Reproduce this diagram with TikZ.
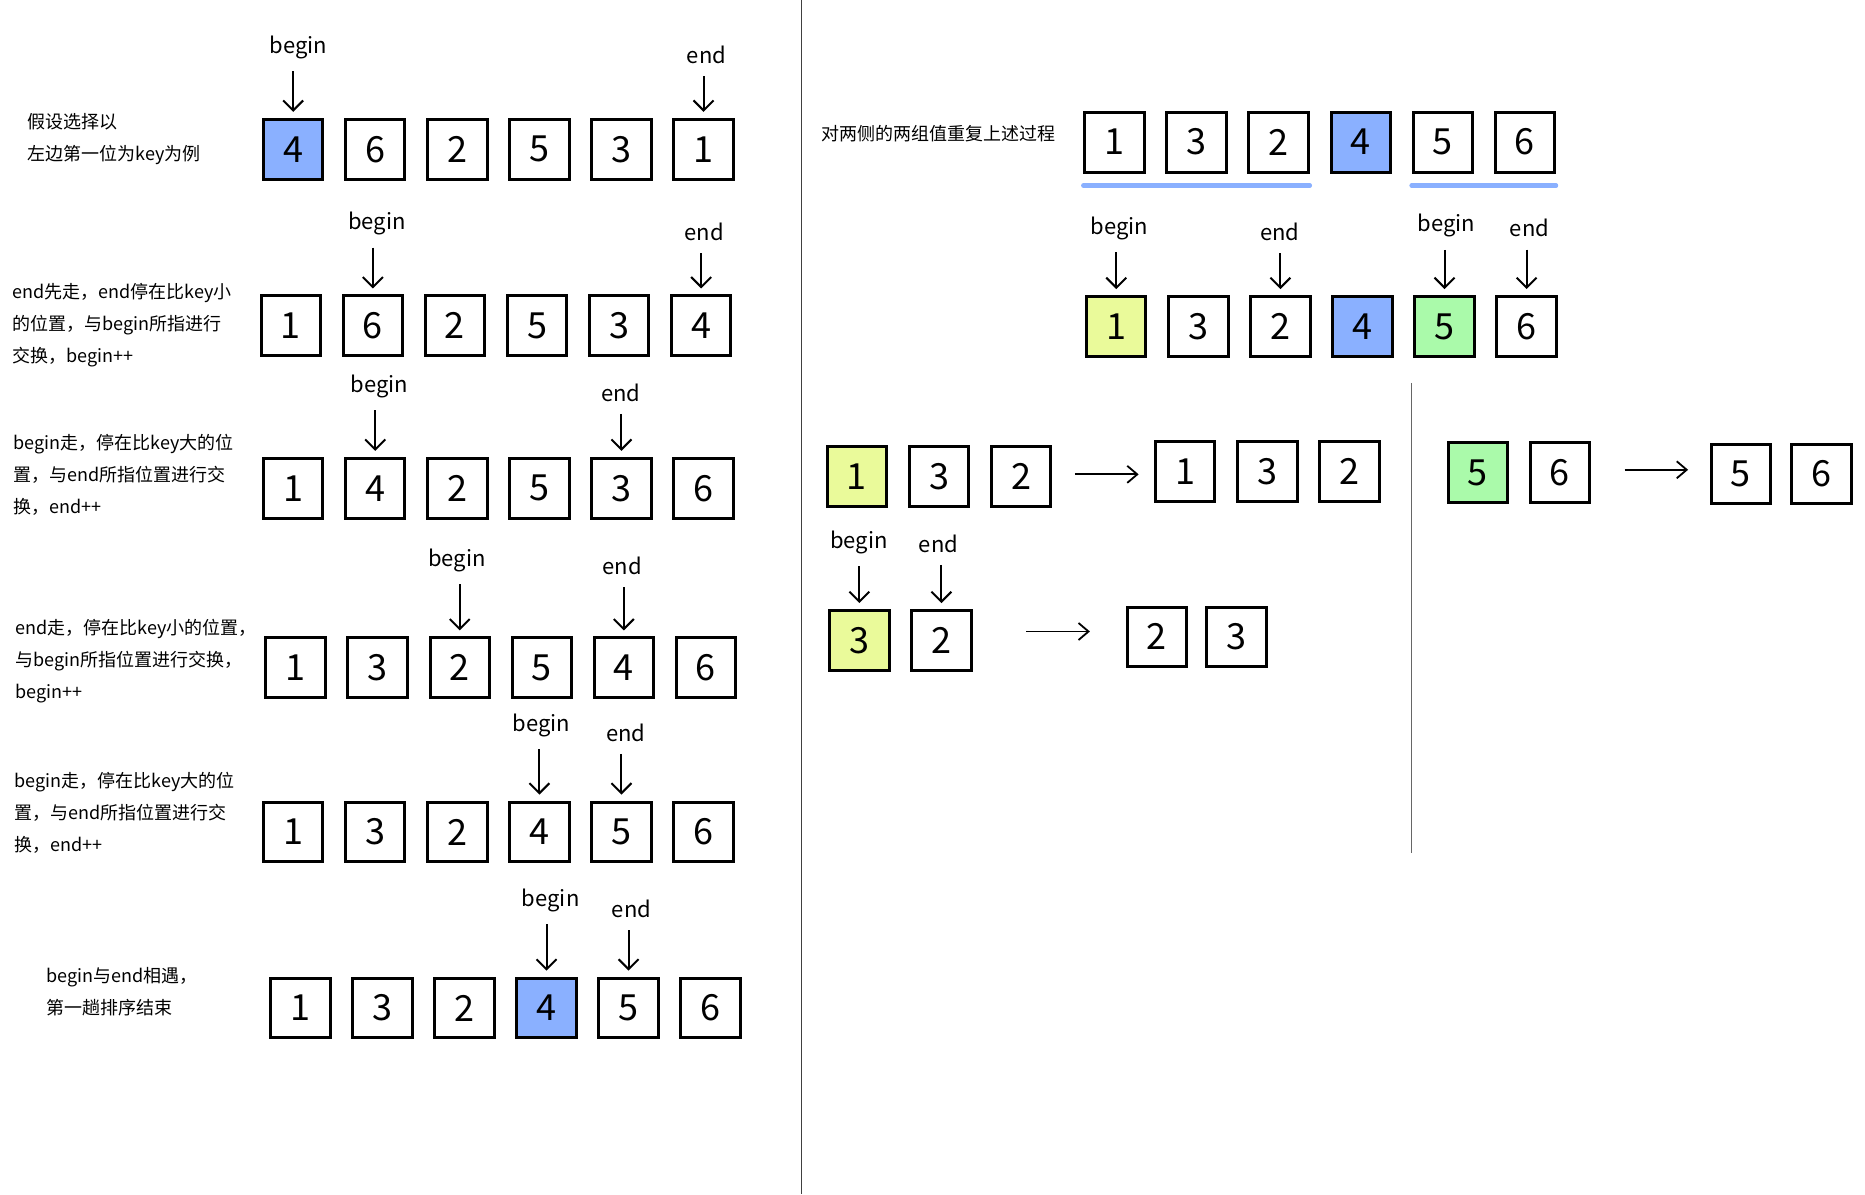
\documentclass[tikz,border=0pt]{standalone}
\usepackage{fontspec}
\setmainfont{Noto Sans CJK SC}
\usetikzlibrary{arrows.meta, positioning}

\definecolor{keyblue}{RGB}{138,176,255}
\definecolor{lowyellow}{RGB}{234,250,154}
\definecolor{highgreen}{RGB}{170,250,170}

\tikzset{
  cell/.style={draw, line width=1.5pt, minimum width=29.7pt, minimum height=29.9pt, inner sep=0pt, font=\fontsize{18}{18}\selectfont},
  ptr/.style={-{Straight Barb[length=5pt,width=10pt]}, line width=1pt, shorten <=6pt, shorten >=3pt},
  flow/.style={-{Straight Barb[length=5pt,width=8.5pt]}, line width=0.9pt},
  tag/.style={inner sep=0pt, font=\fontsize{11}{11}\selectfont},
  note/.style={anchor=west, align=left, inner sep=0pt, font=\fontsize{9}{16}\selectfont},
  uline/.style={keyblue, line width=2.2pt, line cap=round},
}

\begin{document}
\begin{tikzpicture}[x=0.5947pt, y=-0.5947pt]
  \useasboundingbox (0,0) rectangle (1568,1004);

  % ---------- left half: first pass ----------
  % step 1
  \node[note] (n1) at (23,116.5) {假设选择以\\左边第一位为key为例};
  \foreach \v/\c [count=\i] in {4/keyblue,6/white,2/white,5/white,3/white,1/white}
    \node[cell, fill=\c] (s1-\i) at ({246.5+69*(\i-1)},125.5) {\v};
  \node[tag] (b1) at (251,40) {begin};
  \node[tag] (e1) at (594,46) {end};
  \draw[ptr] (s1-1.north |- b1.south) -- (s1-1.north);
  \draw[ptr] (s1-6.north |- e1.south) -- (s1-6.north);

  % step 2
  \node[note] (n2) at (10,273) {end先走，end停在比key小\\的位置，与begin所指进行\\交换，begin++};
  \foreach \v [count=\i] in {1,6,2,5,3,4}
    \node[cell] (s2-\i) at ({244.5+69*(\i-1)},274) {\v};
  \node[tag] (b2) at (317,188) {begin};
  \node[tag] (e2) at (592,195) {end};
  \draw[ptr] (s2-2.north |- b2.south) -- (s2-2.north);
  \draw[ptr] (s2-6.north |- e2.south) -- (s2-6.north);

  % step 3
  \node[note] (n3) at (11,399) {begin走，停在比key大的位\\置，与end所指位置进行交\\换，end++};
  \foreach \v [count=\i] in {1,4,2,5,3,6}
    \node[cell] (s3-\i) at ({246.5+69*(\i-1)},410.5) {\v};
  \node[tag] (b3) at (319,325) {begin};
  \node[tag] (e3) at (522,330) {end};
  \draw[ptr] (s3-2.north |- b3.south) -- (s3-2.north);
  \draw[ptr] (s3-5.north |- e3.south) -- (s3-5.north);

  % step 4
  \node[note] (n4) at (13,556) {end走，停在比key小的位置，\\与begin所指位置进行交换，\\begin++};
  \foreach \v [count=\i] in {1,3,2,5,4,6}
    \node[cell] (s4-\i) at ({248.5+69*(\i-1)},561.5) {\v};
  \node[tag] (b4) at (384,471) {begin};
  \node[tag] (e4) at (523,476) {end};
  \draw[ptr] (s4-3.north |- b4.south) -- (s4-3.north);
  \draw[ptr] (s4-5.north |- e4.south) -- (s4-5.north);

  % step 5
  \node[note] (n5) at (12,683) {begin走，停在比key大的位\\置，与end所指位置进行交\\换，end++};
  \foreach \v [count=\i] in {1,3,2,4,5,6}
    \node[cell] (s5-\i) at ({246.5+69*(\i-1)},699.5) {\v};
  \node[tag] (b5) at (455,610) {begin};
  \node[tag] (e5) at (526,616) {end};
  \draw[ptr] (s5-4.north |- b5.south) -- (s5-4.north);
  \draw[ptr] (s5-5.north |- e5.south) -- (s5-5.north);

  % step 6
  \node[note] (n6) at (39,833.5) {begin与end相遇，\\第一趟排序结束};
  \foreach \v/\c [count=\i] in {1/white,3/white,2/white,4/keyblue,5/white,6/white}
    \node[cell, fill=\c] (s6-\i) at ({252.5+69*(\i-1)},847.5) {\v};
  \node[tag] (b6) at (463,757) {begin};
  \node[tag] (e6) at (531,764) {end};
  \draw[ptr] (s6-4.north |- b6.south) -- (s6-4.north);
  \draw[ptr] (s6-5.north |- e6.south) -- (s6-5.north);

  % divider
  \draw[black!75, line width=0.6pt] (674,0) -- (674,1004);

  % ---------- right half: the two sides ----------
  \node[note] (n7) at (690,112) {对两侧的两组值重复上述过程};
  \foreach \v/\c [count=\i] in {1/white,3/white,2/white,4/keyblue,5/white,6/white}
    \node[cell, fill=\c] (t-\i) at ({937+69*(\i-1)},119.5) {\v};
  \draw[uline] ([yshift=-6pt]t-1.south west) -- ([yshift=-6pt]t-3.south east);
  \draw[uline] ([yshift=-6pt]t-5.south west) -- ([yshift=-6pt]t-6.south east);

  \foreach \v/\c [count=\i] in {1/lowyellow,3/white,2/white,4/keyblue,5/highgreen,6/white}
    \node[cell, fill=\c] (u-\i) at ({938.5+69*(\i-1)},274.5) {\v};
  \node[tag] (b7) at (941,192) {begin};
  \node[tag] (e7) at (1076,195) {end};
  \node[tag] (b8) at (1216,190) {begin};
  \node[tag] (e8) at (1286,192) {end};
  \draw[ptr] (u-1.north |- b7.south) -- (u-1.north);
  \draw[ptr] (u-3.north |- e7.south) -- (u-3.north);
  \draw[ptr] (u-5.north |- b8.south) -- (u-5.north);
  \draw[ptr] (u-6.north |- e8.south) -- (u-6.north);

  % left group 1 3 2
  \foreach \v/\c [count=\i] in {1/lowyellow,3/white,2/white}
    \node[cell, fill=\c] (p-\i) at ({720.5+69*(\i-1)},400.5) {\v};
  \foreach \v [count=\i] in {1,3,2}
    \node[cell] (q-\i) at ({996.5+69*(\i-1)},396.5) {\v};
  \draw[flow, shorten <=11.3pt, shorten >=7.7pt] ([yshift=1pt]p-3.east) -- ([yshift=1pt]p-3.east -| q-1.west);

  % sub group 3 2
  \node[cell, fill=lowyellow] (v-1) at (722.5,538.5) {3};
  \node[cell] (v-2) at (791.5,538.5) {2};
  \node[tag] (b9) at (722,456) {begin};
  \node[tag] (e9) at (789,457) {end};
  \draw[ptr] (v-1.north |- b9.south) -- (v-1.north);
  \draw[ptr] (v-2.north |- e9.south) -- (v-2.north);
  \node[cell] (w-1) at (972.5,535.5) {2};
  \node[cell] (w-2) at (1039.5,535.5) {3};
  \draw[flow, shorten <=26.8pt, shorten >=17.8pt] ([yshift=4.5pt]v-2.east) -- ([yshift=4.5pt]v-2.east -| w-1.west);

  % right group 5 6
  \draw[black!60, line width=0.5pt] (1187,322) -- (1187,717);
  \node[cell, fill=highgreen] (g-1) at (1242.5,397.5) {5};
  \node[cell] (g-2) at (1311.5,397.5) {6};
  \node[cell] (h-1) at (1463.5,398.5) {5};
  \node[cell] (h-2) at (1531.5,398.5) {6};
  \draw[flow, shorten <=16.7pt, shorten >=10.7pt] ([yshift=1.5pt]g-2.east) -- ([yshift=1.5pt]g-2.east -| h-1.west);
\end{tikzpicture}
\end{document}
